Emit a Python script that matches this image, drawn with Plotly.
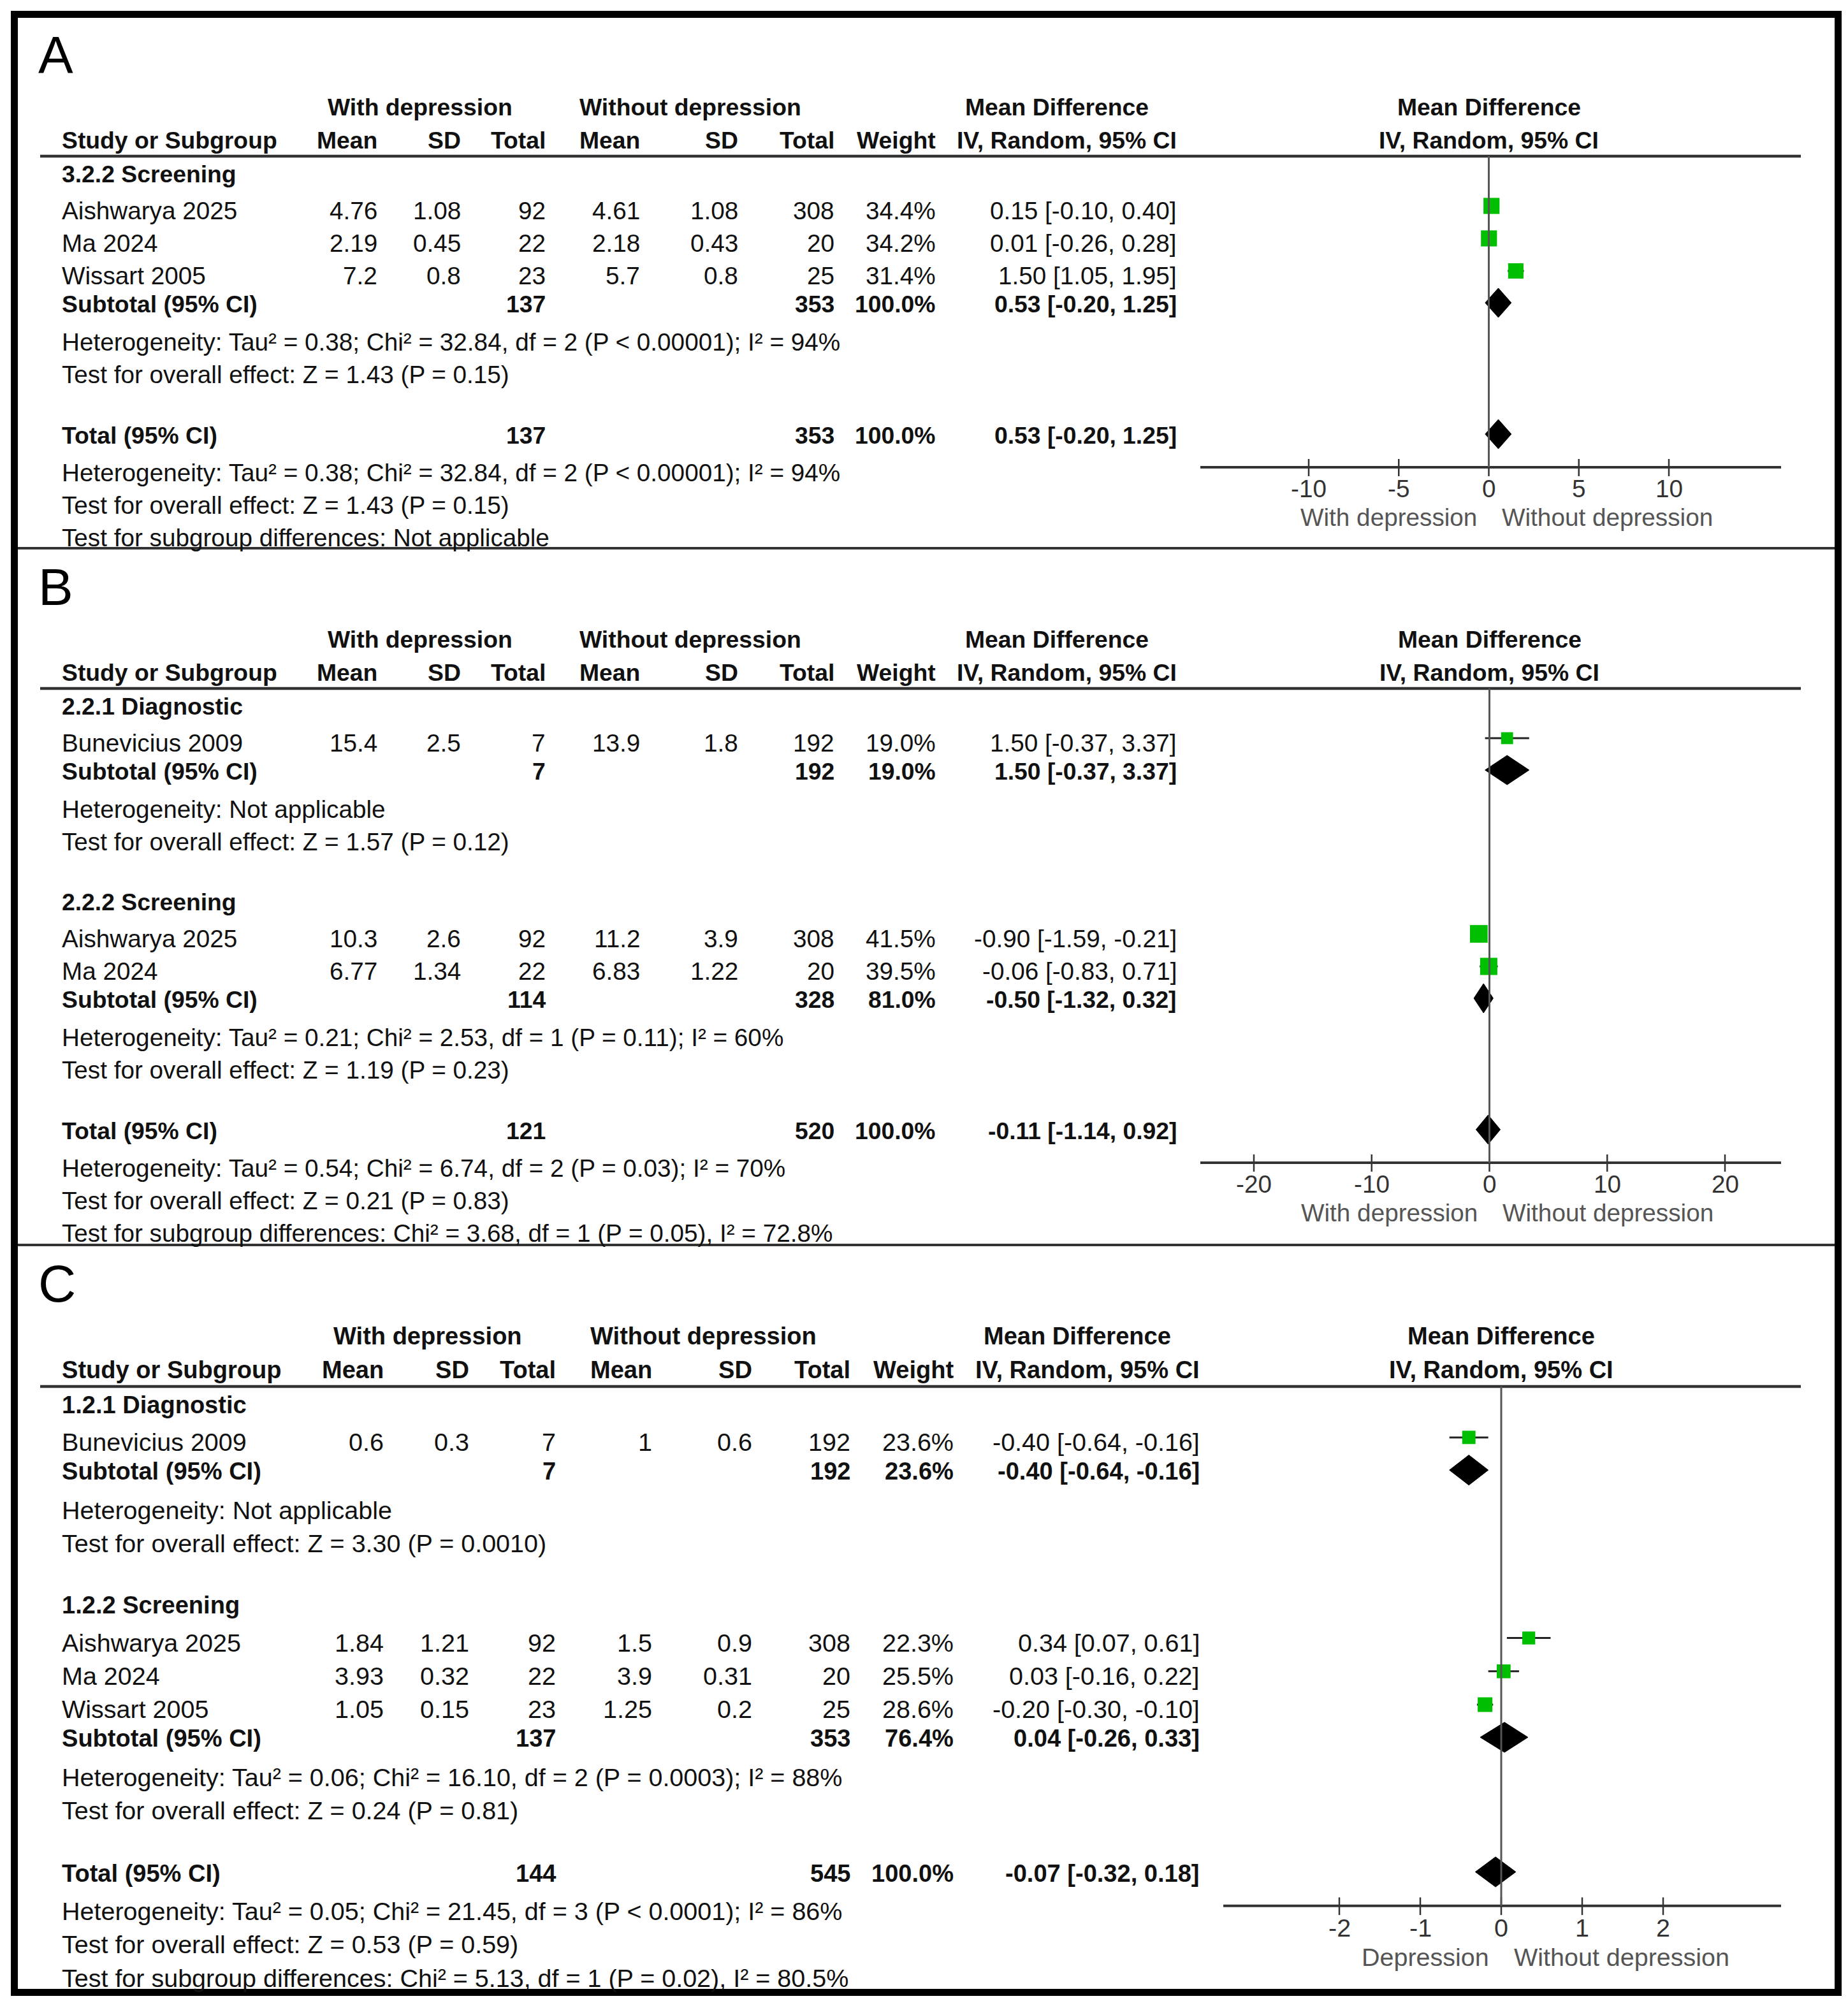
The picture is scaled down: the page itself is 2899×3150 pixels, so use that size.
import plotly.graph_objects as go

W, H = 2899, 3150
FONT = "Liberation Sans, Arial, Helvetica, sans-serif"

# ======================= DATA =======================
# ---- Panel A ----
A_groups = ["3.2.2 Screening"]
A_study = ["Aishwarya 2025", "Ma 2024", "Wissart 2005"]
A_group_idx = [0, 0, 0]
A_mean_dep = [4.76, 2.19, 7.2]
A_sd_dep = [1.08, 0.45, 0.8]
A_n_dep = [92, 22, 23]
A_mean_nodep = [4.61, 2.18, 5.7]
A_sd_nodep = [1.08, 0.43, 0.8]
A_n_nodep = [308, 20, 25]
A_weight = [34.4, 34.2, 31.4]
A_md = [0.15, 0.01, 1.50]
A_lo = [-0.10, -0.26, 1.05]
A_hi = [0.40, 0.28, 1.95]
A_sub_n_dep = [137]
A_sub_n_nodep = [353]
A_sub_weight = [100.0]
A_sub_md = [0.53]
A_sub_lo = [-0.20]
A_sub_hi = [1.25]
A_sub_het = ["Heterogeneity: Tau² = 0.38; Chi² = 32.84, df = 2 (P < 0.00001); I² = 94%"]
A_sub_z = ["Test for overall effect: Z = 1.43 (P = 0.15)"]
A_tot_n = [137, 353]
A_tot_weight = 100.0
A_tot_ci = [0.53, -0.20, 1.25]
A_tot_notes = ["Heterogeneity: Tau² = 0.38; Chi² = 32.84, df = 2 (P < 0.00001); I² = 94%",
               "Test for overall effect: Z = 1.43 (P = 0.15)",
               "Test for subgroup differences: Not applicable"]
A_ticks = [-10, -5, 0, 5, 10]
A_favours = ["With depression", "Without depression"]

# ---- Panel B ----
B_groups = ["2.2.1 Diagnostic", "2.2.2 Screening"]
B_study = ["Bunevicius 2009", "Aishwarya 2025", "Ma 2024"]
B_group_idx = [0, 1, 1]
B_mean_dep = [15.4, 10.3, 6.77]
B_sd_dep = [2.5, 2.6, 1.34]
B_n_dep = [7, 92, 22]
B_mean_nodep = [13.9, 11.2, 6.83]
B_sd_nodep = [1.8, 3.9, 1.22]
B_n_nodep = [192, 308, 20]
B_weight = [19.0, 41.5, 39.5]
B_md = [1.50, -0.90, -0.06]
B_lo = [-0.37, -1.59, -0.83]
B_hi = [3.37, -0.21, 0.71]
B_sub_n_dep = [7, 114]
B_sub_n_nodep = [192, 328]
B_sub_weight = [19.0, 81.0]
B_sub_md = [1.50, -0.50]
B_sub_lo = [-0.37, -1.32]
B_sub_hi = [3.37, 0.32]
B_sub_het = ["Heterogeneity: Not applicable",
             "Heterogeneity: Tau² = 0.21; Chi² = 2.53, df = 1 (P = 0.11); I² = 60%"]
B_sub_z = ["Test for overall effect: Z = 1.57 (P = 0.12)",
           "Test for overall effect: Z = 1.19 (P = 0.23)"]
B_tot_n = [121, 520]
B_tot_weight = 100.0
B_tot_ci = [-0.11, -1.14, 0.92]
B_tot_notes = ["Heterogeneity: Tau² = 0.54; Chi² = 6.74, df = 2 (P = 0.03); I² = 70%",
               "Test for overall effect: Z = 0.21 (P = 0.83)",
               "Test for subgroup differences: Chi² = 3.68, df = 1 (P = 0.05), I² = 72.8%"]
B_ticks = [-20, -10, 0, 10, 20]
B_favours = ["With depression", "Without depression"]

# ---- Panel C ----
C_groups = ["1.2.1 Diagnostic", "1.2.2 Screening"]
C_study = ["Bunevicius 2009", "Aishwarya 2025", "Ma 2024", "Wissart 2005"]
C_group_idx = [0, 1, 1, 1]
C_mean_dep = [0.6, 1.84, 3.93, 1.05]
C_sd_dep = [0.3, 1.21, 0.32, 0.15]
C_n_dep = [7, 92, 22, 23]
C_mean_nodep = [1, 1.5, 3.9, 1.25]
C_sd_nodep = [0.6, 0.9, 0.31, 0.2]
C_n_nodep = [192, 308, 20, 25]
C_weight = [23.6, 22.3, 25.5, 28.6]
C_md = [-0.40, 0.34, 0.03, -0.20]
C_lo = [-0.64, 0.07, -0.16, -0.30]
C_hi = [-0.16, 0.61, 0.22, -0.10]
C_sub_n_dep = [7, 137]
C_sub_n_nodep = [192, 353]
C_sub_weight = [23.6, 76.4]
C_sub_md = [-0.40, 0.04]
C_sub_lo = [-0.64, -0.26]
C_sub_hi = [-0.16, 0.33]
C_sub_het = ["Heterogeneity: Not applicable",
             "Heterogeneity: Tau² = 0.06; Chi² = 16.10, df = 2 (P = 0.0003); I² = 88%"]
C_sub_z = ["Test for overall effect: Z = 3.30 (P = 0.0010)",
           "Test for overall effect: Z = 0.24 (P = 0.81)"]
C_tot_n = [144, 545]
C_tot_weight = 100.0
C_tot_ci = [-0.07, -0.32, 0.18]
C_tot_notes = ["Heterogeneity: Tau² = 0.05; Chi² = 21.45, df = 3 (P < 0.0001); I² = 86%",
               "Test for overall effect: Z = 0.53 (P = 0.59)",
               "Test for subgroup differences: Chi² = 5.13, df = 1 (P = 0.02), I² = 80.5%"]
C_ticks = [-2, -1, 0, 1, 2]
C_favours = ["Depression", "Without depression"]

HEAD1 = ["With depression", "Without depression", "Mean Difference"]
HEAD2 = ["Study or Subgroup", "Mean", "SD", "Total", "Mean", "SD", "Total", "Weight", "IV, Random, 95% CI"]
FOREST_HEAD = ["Mean Difference", "IV, Random, 95% CI"]

# ======================= LAYOUT (pixels) =======================
PANEL_LAYOUT = {
    "A": dict(label_y=85, top=168, ys=1.0, xs=1.0, zero=2335.5, ppu=28.25, fx0=1883, fx1=2794, axis="x"),
    "B": dict(label_y=920, top=1003, ys=1.0, xs=1.0, zero=2336.5, ppu=18.475, fx0=1883, fx1=2794, axis="x2"),
    "C": dict(label_y=2013, top=2096, ys=1.025, xs=1.0205, zero=2355, ppu=127.0, fx0=1919, fx1=2794, axis="x3"),
}
COLS = dict(left=94.5, mean1=594, sd1=725, n1=858, mean2=1006, sd2=1160, n2=1311,
            weight=1470, ci=1848, g1=659, g2=1083, g3=1658)
RULE_X = (63, 2825)
SEPARATORS = [860, 1953]
TXT = 38.7
BTXT = 37.3
SQ = 4.3
DIAMOND_HALF = 23

def panel(p):
    g = globals()
    keys = ["groups", "study", "group_idx", "mean_dep", "sd_dep", "n_dep", "mean_nodep", "sd_nodep",
            "n_nodep", "weight", "md", "lo", "hi", "sub_n_dep", "sub_n_nodep", "sub_weight", "sub_md",
            "sub_lo", "sub_hi", "sub_het", "sub_z", "tot_n", "tot_weight", "tot_ci", "tot_notes",
            "ticks", "favours"]
    return {k: g[f"{p}_{k}"] for k in keys}

annotations = []
shapes = []
traces = []

def txt(x, y, s, anchor="left", size=TXT, bold=False, color="#111", xref="paper"):
    annotations.append(dict(
        xref=xref, yref="y", x=(x / W if xref == "paper" else x), y=y,
        text=(f"<b>{s}</b>" if bold else s), showarrow=False,
        xanchor=anchor, yanchor="middle",
        font=dict(family=FONT, size=size, color=color)))

def hline(x0, x1, y, width, color="#333"):
    shapes.append(dict(type="line", xref="paper", yref="y", x0=x0 / W, x1=x1 / W, y0=y, y1=y,
                       line=dict(color=color, width=width)))

fmt = lambda v: f"{v:g}"
fci = lambda e, l, h: f"{e:.2f} [{l:.2f}, {h:.2f}]"
fw = lambda w: f"{w:.1f}%"

xaxes = {}
for name in ["A", "B", "C"]:
    P = panel(name)
    L = PANEL_LAYOUT[name]
    s, xs = L["ys"], L["xs"]
    cx = {k: COLS["left"] + (v - COLS["left"]) * xs for k, v in COLS.items()}
    ts, bs = TXT * xs, BTXT * xs
    ax = L["axis"]

    # panel letter
    txt(58, L["label_y"], name, size=82, color="#000")

    # --- row positions ---
    y = L["top"]
    yh1 = y
    y += 52 * s; yh2 = y
    y += 25 * s; yrule = y
    study_y = [None] * len(P["study"])
    sub_rows = []
    for gi, gname in enumerate(P["groups"]):
        y += (28 if gi == 0 else 95) * s
        gy = y
        members = [i for i, gg in enumerate(P["group_idx"]) if gg == gi]
        for k, i in enumerate(members):
            y += (57 if k == 0 else 51) * s
            study_y[i] = y
        y += 45 * s; suby = y
        y += 59 * s; hety = y
        y += 51 * s; testy = y
        sub_rows.append((gy, suby, hety, testy))
    y += 96 * s; ytot = y
    note_y = []
    for step in (58, 51, 51):
        y += step * s
        note_y.append(y)
    yaxis_line = ytot + 50 * s

    # --- headers ---
    for key, lab in zip(["g1", "g2", "g3"], HEAD1):
        txt(cx[key], yh1, lab, anchor="center", size=bs, bold=True)
    txt(cx["left"], yh2, HEAD2[0], size=bs, bold=True)
    for key, lab in zip(["mean1", "sd1", "n1", "mean2", "sd2", "n2", "weight", "ci"], HEAD2[1:]):
        txt(cx[key], yh2, lab, anchor="right", size=bs, bold=True)
    txt(L["zero"], yh1, FOREST_HEAD[0], anchor="center", size=bs, bold=True)
    txt(L["zero"], yh2, FOREST_HEAD[1], anchor="center", size=bs, bold=True)
    hline(RULE_X[0], RULE_X[1], yrule, 4.5)

    # --- study rows ---
    for i, st in enumerate(P["study"]):
        yy = study_y[i]
        txt(cx["left"], yy, st, size=ts)
        vals = [fmt(P["mean_dep"][i]), fmt(P["sd_dep"][i]), str(P["n_dep"][i]),
                fmt(P["mean_nodep"][i]), fmt(P["sd_nodep"][i]), str(P["n_nodep"][i]),
                fw(P["weight"][i]), fci(P["md"][i], P["lo"][i], P["hi"][i])]
        for key, v in zip(["mean1", "sd1", "n1", "mean2", "sd2", "n2", "weight", "ci"], vals):
            txt(cx[key], yy, v, anchor="right", size=ts)

    # --- subgroup rows ---
    for gi, (gy, suby, hety, testy) in enumerate(sub_rows):
        txt(cx["left"], gy, P["groups"][gi], size=bs, bold=True)
        txt(cx["left"], suby, "Subtotal (95% CI)", size=bs, bold=True)
        txt(cx["n1"], suby, str(P["sub_n_dep"][gi]), anchor="right", size=bs, bold=True)
        txt(cx["n2"], suby, str(P["sub_n_nodep"][gi]), anchor="right", size=bs, bold=True)
        txt(cx["weight"], suby, fw(P["sub_weight"][gi]), anchor="right", size=bs, bold=True)
        txt(cx["ci"], suby, fci(P["sub_md"][gi], P["sub_lo"][gi], P["sub_hi"][gi]),
            anchor="right", size=bs, bold=True)
        txt(cx["left"], hety, P["sub_het"][gi], size=ts)
        txt(cx["left"], testy, P["sub_z"][gi], size=ts)

    # --- total rows ---
    txt(cx["left"], ytot, "Total (95% CI)", size=bs, bold=True)
    txt(cx["n1"], ytot, str(P["tot_n"][0]), anchor="right", size=bs, bold=True)
    txt(cx["n2"], ytot, str(P["tot_n"][1]), anchor="right", size=bs, bold=True)
    txt(cx["weight"], ytot, fw(P["tot_weight"]), anchor="right", size=bs, bold=True)
    txt(cx["ci"], ytot, fci(*P["tot_ci"]), anchor="right", size=bs, bold=True)
    for ny, note in zip(note_y, P["tot_notes"]):
        txt(cx["left"], ny, note, size=ts)

    # --- forest axis ---
    rng = [(L["fx0"] - L["zero"]) / L["ppu"], (L["fx1"] - L["zero"]) / L["ppu"]]
    xaxes[ax] = dict(domain=[L["fx0"] / W, L["fx1"] / W], range=rng, visible=False,
                     fixedrange=True, anchor="y")
    hline(L["fx0"], L["fx1"], yaxis_line, 4)
    for t in P["ticks"]:
        shapes.append(dict(type="line", xref=ax, yref="y", x0=t, x1=t,
                           y0=yaxis_line - 13 * s, y1=yaxis_line + 14 * s,
                           line=dict(color="#333", width=2.5)))
        txt(t, yaxis_line + 33 * s, f"{t:g}", anchor="center", size=ts, color="#333", xref=ax)
    # zero line
    shapes.append(dict(type="line", xref=ax, yref="y", x0=0, x1=0, y0=yrule, y1=yaxis_line,
                       line=dict(color="#555", width=3)))
    txt(L["zero"] - 17, yaxis_line + 78 * s, P["favours"][0], anchor="right", size=ts, color="#555")
    txt(L["zero"] + 18, yaxis_line + 78 * s, P["favours"][1], anchor="left", size=ts, color="#555")

    # --- CI lines ---
    cx_l, cy_l = [], []
    for i in range(len(P["study"])):
        cx_l += [P["lo"][i], P["hi"][i], None]
        cy_l += [study_y[i] - 7 * s] * 2 + [None]
    traces.append(go.Scatter(x=cx_l, y=cy_l, xaxis=ax, yaxis="y", mode="lines",
                             line=dict(color="#222", width=3), hoverinfo="skip", showlegend=False))
    # --- squares ---
    traces.append(go.Scatter(
        x=P["md"], y=[yy - 7 * s for yy in study_y], xaxis=ax, yaxis="y", mode="markers",
        marker=dict(symbol="square", color="#00BE00", opacity=1,
                    size=[SQ * (w ** 0.5) for w in P["weight"]], line=dict(width=0)),
        hoverinfo="skip", showlegend=False, cliponaxis=False))
    # --- diamonds ---
    dx, dy = [], []
    diamonds = [(P["sub_md"][gi], P["sub_lo"][gi], P["sub_hi"][gi], sub_rows[gi][1])
                for gi in range(len(P["groups"]))]
    diamonds.append((P["tot_ci"][0], P["tot_ci"][1], P["tot_ci"][2], ytot))
    hh = DIAMOND_HALF * s
    for est, lo, hi, yy in diamonds:
        yc = yy - 2 * s
        dx += [lo, est, hi, est, lo, None]
        dy += [yc, yc - hh, yc, yc + hh, yc, None]
    traces.append(go.Scatter(x=dx, y=dy, xaxis=ax, yaxis="y", mode="lines", fill="toself",
                             fillcolor="#000", line=dict(color="#000", width=1),
                             hoverinfo="skip", showlegend=False))

# separators and outer frame
for sy in SEPARATORS:
    hline(17, 2889, sy, 4)
shapes.append(dict(type="rect", xref="paper", yref="y", x0=22.5 / W, x1=2883.5 / W, y0=22.5, y1=3125.5,
                   line=dict(color="#000", width=11), fillcolor="rgba(0,0,0,0)"))

fig = go.Figure(data=traces)
layout = dict(
    width=W, height=H, autosize=False,
    margin=dict(l=0, r=0, t=0, b=0, pad=0),
    paper_bgcolor="white", plot_bgcolor="rgba(0,0,0,0)",
    showlegend=False,
    yaxis=dict(range=[H, 0], domain=[0, 1], visible=False, fixedrange=True, anchor="x"),
    annotations=annotations, shapes=shapes,
)
for ax, spec in xaxes.items():
    layout["xaxis" if ax == "x" else "xaxis" + ax[1:]] = spec
fig.update_layout(**layout)
fig.write_html(
    "out.html",
    config={"displayModeBar": False},
    post_script="document.body.style.margin='0';document.body.style.padding='0';document.body.style.overflow='hidden';",
)
